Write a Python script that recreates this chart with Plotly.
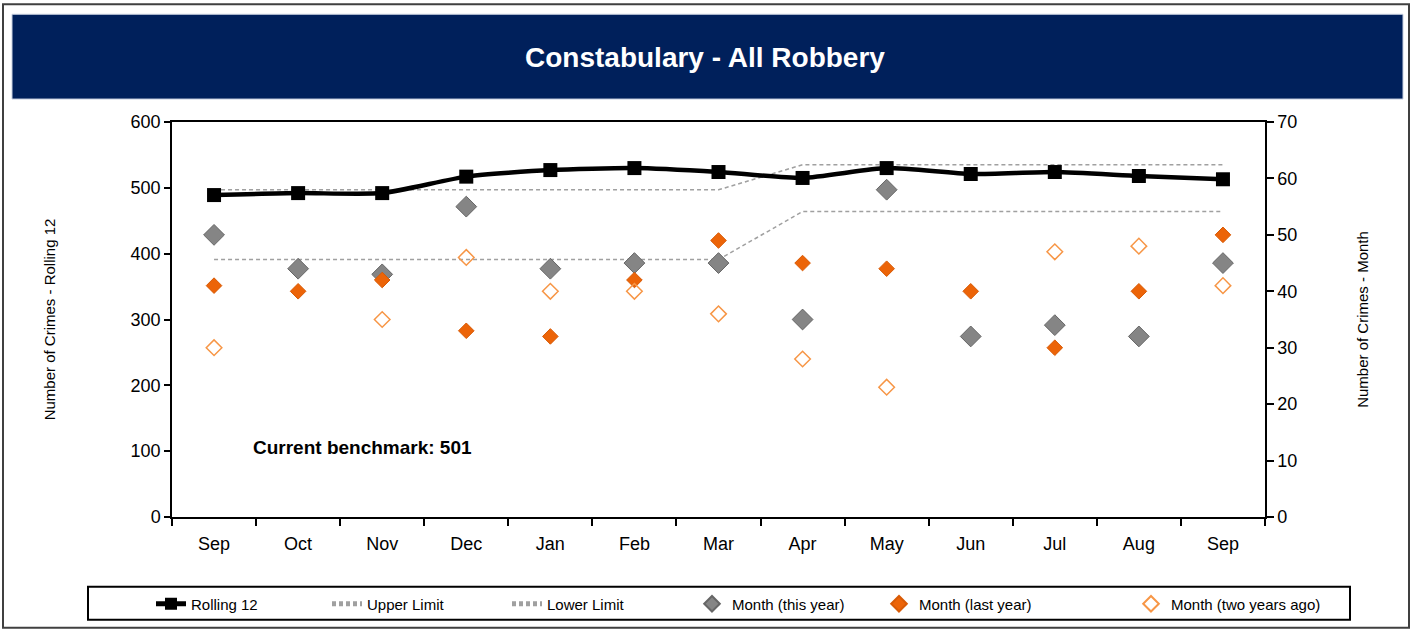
import plotly.graph_objects as go

months = ["Sep", "Oct", "Nov", "Dec", "Jan", "Feb", "Mar", "Apr", "May", "Jun", "Jul", "Aug", "Sep"]
rolling_12 = [489, 492, 492, 517, 527, 530, 524, 515, 530, 521, 524, 518, 513]
upper_limit = [497, 497, 497, 497, 497, 497, 497, 535, 535, 535, 535, 535, 535]
lower_limit = [391, 391, 391, 391, 391, 391, 391, 464, 464, 464, 464, 464, 464]
month_this_year = [50, 44, 43, 55, 44, 45, 45, 35, 58, 32, 34, 32, 45]
month_last_year = [41, 40, 42, 33, 32, 42, 49, 45, 44, 40, 30, 40, 50]
month_two_years_ago = [30, None, 35, 46, 40, 40, 36, 28, 23, None, 47, 48, 41]

title_text = "Constabulary - All Robbery"
benchmark_text = "Current benchmark: 501"
y1_title = "Number of Crimes - Rolling 12"
y2_title = "Number of Crimes - Month"

FONT = "Liberation Sans, Arial, sans-serif"
W_FIG, H_FIG = 1414, 631
# plot area in screen pixels
L, R, T, B = 172, 1265, 122, 518
PW, PH = R - L, B - T


def px(x):
    return (x - L) / PW


def py(y):
    return (B - y) / PH


xs = list(range(len(months)))

fig = go.Figure()

fig.add_trace(go.Scatter(
    x=xs, y=upper_limit, name="Upper Limit", mode="lines",
    line=dict(color="#a0a0a0", width=1.5, dash="4px,3px"), legend="legend2"))
fig.add_trace(go.Scatter(
    x=xs, y=lower_limit, name="Lower Limit", mode="lines",
    line=dict(color="#a0a0a0", width=1.5, dash="4px,3px"), legend="legend3"))
fig.add_trace(go.Scatter(
    x=xs, y=rolling_12, name="Rolling 12", mode="lines+markers",
    line=dict(color="#000000", width=4.5, shape="spline", smoothing=0.6),
    marker=dict(symbol="square", size=14, color="#000000"), legend="legend"))
fig.add_trace(go.Scatter(
    x=xs, y=month_this_year, name="Month (this year)", mode="markers", yaxis="y2",
    marker=dict(symbol="diamond", size=16, color="#858585", line=dict(color="#666666", width=1)),
    legend="legend4"))
fig.add_trace(go.Scatter(
    x=xs, y=month_last_year, name="Month (last year)", mode="markers", yaxis="y2",
    marker=dict(symbol="diamond", size=12, color="#EC6408", line=dict(color="#D85A05", width=1)),
    legend="legend5"))
fig.add_trace(go.Scatter(
    x=xs, y=month_two_years_ago, name="Month (two years ago)", mode="markers", yaxis="y2",
    marker=dict(symbol="diamond-open", size=12, color="#F79646", line=dict(width=1.5)),
    legend="legend6"))

legend_text_x = [192, 368, 548, 733, 920, 1172]
legend_common = dict(yanchor="middle", xanchor="left", orientation="h",
                     bgcolor="rgba(0,0,0,0)", borderwidth=0, itemsizing="constant",
                     font=dict(family=FONT, size=15, color="#000000"))
legends = {}
for i, tx in enumerate(legend_text_x):
    key = "legend" if i == 0 else f"legend{i + 1}"
    legends[key] = dict(x=px(tx - 41), y=py(604), **legend_common)

fig.update_layout(
    width=W_FIG, height=H_FIG,
    margin=dict(l=L, r=W_FIG - R, t=T, b=H_FIG - B),
    paper_bgcolor="#ffffff", plot_bgcolor="#ffffff",
    font=dict(family=FONT, color="#000000"),
    xaxis=dict(
        range=[-0.5, len(months) - 0.5], tickmode="array", tickvals=xs, ticktext=months,
        ticks="", showgrid=False, zeroline=False,
        showline=True, linecolor="#000000", linewidth=1.5, mirror=True,
        tickfont=dict(size=18, color="#000000"),
        minor=dict(tick0=0.5, dtick=1, ticks="outside", ticklen=7, tickcolor="#000000",
                   tickwidth=1.5, showgrid=False),
        ticklabelstandoff=10,
    ),
    yaxis=dict(
        range=[0, 600], dtick=100, ticks="outside", ticklen=6, tickwidth=1.5, tickcolor="#000000",
        showgrid=False, zeroline=False, showline=True, linecolor="#000000", linewidth=1.5,
        tickfont=dict(size=18, color="#000000"),
        title=dict(text=y1_title, font=dict(size=15, color="#000000"), standoff=71),
    ),
    yaxis2=dict(
        range=[0, 70], dtick=10, overlaying="y", side="right", ticks="outside", ticklen=7,
        tickwidth=1.5, tickcolor="#000000",
        showgrid=False, zeroline=False, showline=True, linecolor="#000000", linewidth=1.5,
        tickfont=dict(size=18, color="#000000"),
        title=dict(text=y2_title, font=dict(size=15, color="#000000"), standoff=61),
    ),
    showlegend=True,
    **legends,
)

# outer frame, title band, legend box
fig.add_shape(type="rect", xref="paper", yref="paper",
              x0=px(3), x1=px(1409), y0=py(629), y1=py(4),
              line=dict(color="#404040", width=2), fillcolor="rgba(0,0,0,0)", layer="below")
fig.add_shape(type="rect", xref="paper", yref="paper",
              x0=px(12), x1=px(1403), y0=py(99), y1=py(14),
              line=dict(color="#c8d0e0", width=1), fillcolor="#00205B", layer="below")
fig.add_shape(type="rect", xref="paper", yref="paper",
              x0=px(88), x1=px(1350), y0=py(621), y1=py(588),
              line=dict(color="#000000", width=2), fillcolor="rgba(0,0,0,0)", layer="below")

fig.add_annotation(text=f"<b>{title_text}</b>", xref="paper", yref="paper",
                   x=px(705), y=py(57), xanchor="center", yanchor="middle", showarrow=False,
                   font=dict(family=FONT, size=28, color="#ffffff"))
fig.add_annotation(text=f"<b>{benchmark_text}</b>", xref="paper", yref="paper",
                   x=px(251), y=py(448), xanchor="left", yanchor="middle", showarrow=False,
                   font=dict(family=FONT, size=19, color="#000000"))

fig.write_html("out.html", config={"displayModeBar": False},
               post_script="document.body.style.margin='0';document.body.style.overflow='hidden';")
